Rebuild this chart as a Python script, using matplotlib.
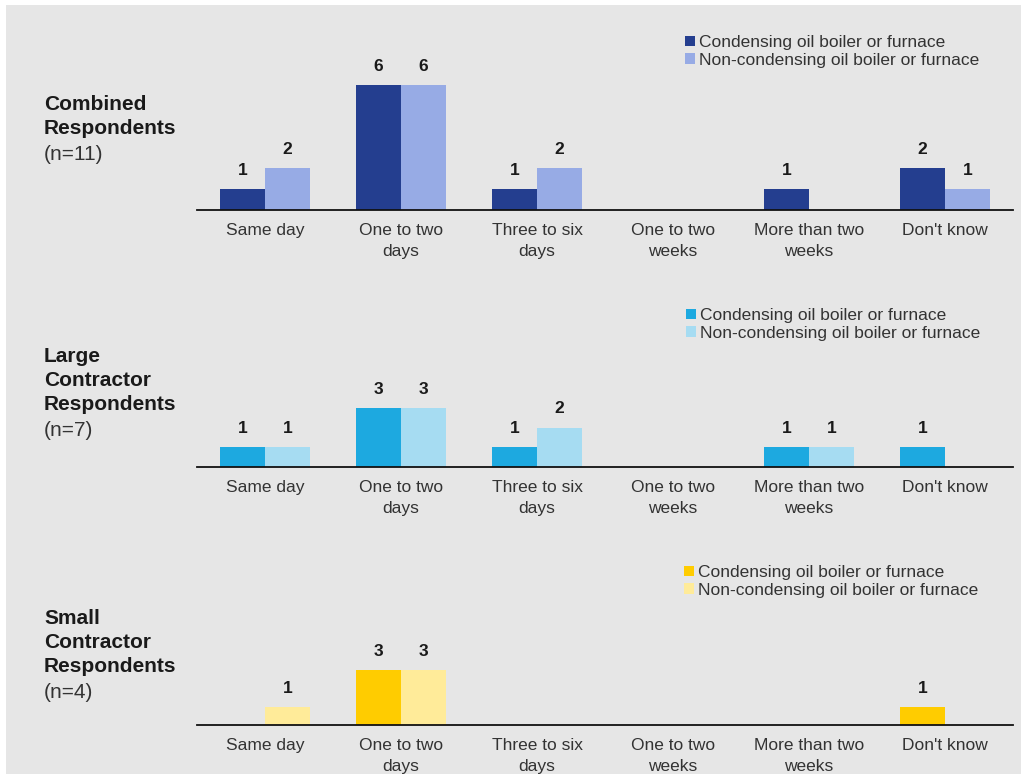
import matplotlib.pyplot as plt
from matplotlib.patches import Rectangle, Patch
import numpy as np

plt.rcParams['font.family'] = ['Liberation Sans', 'DejaVu Sans']

categories = ["Same day", "One to two\ndays", "Three to six\ndays", "One to two\nweeks",
              "More than two\nweeks", "Don't know"]
series_names = ["Condensing oil boiler or furnace", "Non-condensing oil boiler or furnace"]

combined_cond = [1, 6, 1, 0, 1, 2]
combined_noncond = [2, 6, 2, 0, 0, 1]
large_cond = [1, 3, 1, 0, 1, 1]
large_noncond = [1, 3, 2, 0, 1, 0]
small_cond = [0, 3, 0, 0, 0, 1]
small_noncond = [1, 3, 0, 0, 0, 0]

panel_titles = ["Combined\nRespondents", "Large\nContractor\nRespondents", "Small\nContractor\nRespondents"]
panel_n = ["(n=11)", "(n=7)", "(n=4)"]

W, H = 1021, 774
fig = plt.figure(figsize=(W / 100, H / 100), dpi=100, facecolor='white')
bg = '#e6e6e6'
fig.patches.append(Rectangle((6 / W, 0), 1, 1 - 5 / H, transform=fig.transFigure,
                             facecolor=bg, edgecolor='none', zorder=-10))

panels = [
    # cond, noncond, colors, axis base px, px per unit, title y px, legend top px, legend x px
    (combined_cond, combined_noncond, ('#243e8f', '#97abe5'), 210, 20.8, 103, 34, 685),
    (large_cond, large_noncond, ('#1da9e0', '#a6dcf2'), 467, 19.7, 355, 307, 686),
    (small_cond, small_noncond, ('#ffcc00', '#ffeb99'), 725, 18.3, 617, 564, 684),
]

x = np.arange(len(categories))
bw = 0.33
ax_h = 150
text_col = '#1a1a1a'

for i, (cond, noncond, cols, base, ppu, ty, ly, lx) in enumerate(panels):
    ax = fig.add_axes([197 / W, 1 - base / H, 816 / W, ax_h / H])
    ax.set_facecolor('none')
    b1 = ax.bar(x - bw / 2, cond, bw, color=cols[0])
    b2 = ax.bar(x + bw / 2, noncond, bw, color=cols[1])
    for bars, vals in ((b1, cond), (b2, noncond)):
        for b, v in zip(bars, vals):
            if v > 0:
                ax.annotate(str(v), (b.get_x() + b.get_width() / 2, v), xytext=(0, 8),
                            textcoords='offset points', ha='center', va='bottom',
                            fontsize=12.5, fontweight='bold', color=text_col)
    ax.set_xlim(-0.5, 5.5)
    ax.set_ylim(0, ax_h / ppu)
    ax.set_xticks(x)
    ax.set_xticklabels(categories, fontsize=12.5, color='#333333', linespacing=1.45)
    ax.tick_params(axis='x', length=0, pad=9.5)
    ax.set_yticks([])
    for s in ['top', 'left', 'right']:
        ax.spines[s].set_visible(False)
    ax.spines['bottom'].set_linewidth(1.3)
    ax.spines['bottom'].set_color('#111111')

    nlines = panel_titles[i].count('\n') + 1
    top = 1 - (ty - 8) / H
    fig.text(44 / W, top, panel_titles[i], fontsize=15, fontweight='bold',
             color=text_col, va='top', ha='left', linespacing=1.32)
    fig.text(44 / W, top - 24.8 * nlines / H, panel_n[i], fontsize=15,
             color='#333333', va='top', ha='left')

    handles = [Patch(facecolor=c, edgecolor='none') for c in cols]
    fig.legend(handles, series_names, loc='upper left',
               bbox_to_anchor=(lx / W, 1 - (ly + 1) / H), frameon=False, fontsize=12.5,
               handlelength=0.55, handleheight=0.55, handletextpad=0.25,
               labelspacing=0.15, borderpad=0, borderaxespad=0, labelcolor='#333333')

fig.savefig('out.png', dpi=100, facecolor=fig.get_facecolor())
